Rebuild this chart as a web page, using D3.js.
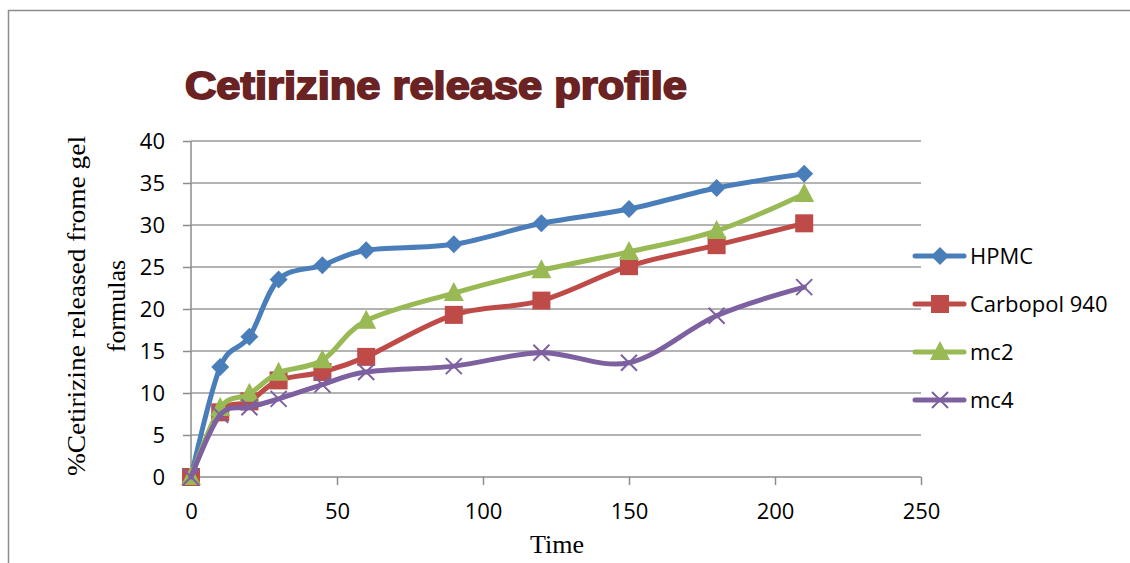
<!DOCTYPE html>
<html>
<head>
<meta charset="utf-8">
<script src="https://cdn.jsdelivr.net/npm/d3@7"></script>
<style>
  body { margin: 0; background: #fff; }
  svg { display: block; }
</style>
</head>
<body>
<div id="chart"></div>
<script>
// Data
const times = [0, 10, 20, 30, 45, 60, 90, 120, 150, 180, 210];
const hpmc = [0, 13.1, 16.7, 23.5, 25.2, 27.0, 27.7, 30.2, 31.9, 34.4, 36.1];
const carbopol = [0, 7.7, 9.0, 11.5, 12.5, 14.3, 19.3, 21.0, 25.1, 27.6, 30.2];
const mc2 = [0, 8.2, 9.9, 12.4, 13.9, 18.6, 21.9, 24.6, 26.8, 29.3, 33.7];
const mc4 = [0, 7.4, 8.3, 9.3, 11.0, 12.5, 13.2, 14.8, 13.6, 19.2, 22.6];
const seriesNames = ["HPMC", "Carbopol 940", "mc2", "mc4"];
const xTicks = [0, 50, 100, 150, 200, 250];
const yTicks = [0, 5, 10, 15, 20, 25, 30, 35, 40];

const series = [
  { name: seriesNames[0], values: hpmc, color: "#4a7ebb", marker: "diamond" },
  { name: seriesNames[1], values: carbopol, color: "#be4b48", marker: "square" },
  { name: seriesNames[2], values: mc2, color: "#98b954", marker: "triangle" },
  { name: seriesNames[3], values: mc4, color: "#7d60a0", marker: "cross" }
];

const W = 1130, H = 563;
const margin = { top: 141, left: 191, right: 209, bottom: 86 };
const width = W - margin.left - margin.right;
const height = H - margin.top - margin.bottom;

const svg = d3.select("#chart").append("svg")
  .attr("width", W)
  .attr("height", H);

// outer chart frame
svg.append("path")
  .attr("d", "M8.5," + H + " V10.5 H" + W)
  .attr("fill", "none")
  .attr("stroke", "#8c8c8c")
  .attr("stroke-width", 1.5);

// title
svg.append("text")
  .attr("x", 185)
  .attr("y", 99)
  .attr("font-family", "Liberation Sans, Arial, sans-serif")
  .attr("font-weight", "bold")
  .attr("font-size", 38)
  .attr("fill", "#6a2222")
  .attr("stroke", "#6a2222")
  .attr("stroke-width", 1.8)
  .attr("textLength", 502)
  .attr("lengthAdjust", "spacingAndGlyphs")
  .text("Cetirizine release profile");

const g = svg.append("g")
  .attr("transform", "translate(" + margin.left + "," + margin.top + ")");

const x = d3.scaleLinear().domain([0, 250]).range([0, width]);
const y = d3.scaleLinear().domain([0, 40]).range([height, 0]);

// horizontal gridlines
g.append("g")
  .selectAll("line")
  .data(yTicks.filter(function(d) { return d > 0; }))
  .enter().append("line")
  .attr("x1", 0)
  .attr("x2", width)
  .attr("y1", function(d) { return y(d); })
  .attr("y2", function(d) { return y(d); })
  .attr("stroke", "#9a9a9a")
  .attr("stroke-width", 1.5);

// y axis
const yAxis = g.append("g")
  .call(d3.axisLeft(y).tickValues(yTicks).tickSize(8).tickPadding(18));
yAxis.selectAll("line, path").attr("stroke", "#8c8c8c").attr("stroke-width", 1.5);
yAxis.select(".domain").attr("d", "M0," + height + "V0");
yAxis.selectAll("text")
  .attr("font-family", "Open Sans, sans-serif")
  .attr("font-size", 22)
  .attr("fill", "#000");

// x axis
const xAxis = g.append("g")
  .attr("transform", "translate(0," + height + ")")
  .call(d3.axisBottom(x).tickValues(xTicks).tickSize(8).tickPadding(18));
xAxis.selectAll("line, path").attr("stroke", "#8c8c8c").attr("stroke-width", 1.5);
xAxis.select(".domain").attr("d", "M0,0H" + width);
xAxis.selectAll("text")
  .attr("font-family", "Open Sans, sans-serif")
  .attr("font-size", 22)
  .attr("fill", "#000");

// axis titles
svg.append("text")
  .attr("x", 557)
  .attr("y", 553)
  .attr("text-anchor", "middle")
  .attr("font-family", "Liberation Serif, serif")
  .attr("font-size", 26)
  .text("Time");

const yLabel = svg.append("text")
  .attr("transform", "translate(85,306) rotate(-90)")
  .attr("text-anchor", "middle")
  .attr("font-family", "Liberation Serif, serif")
  .attr("font-size", 26);
yLabel.append("tspan").attr("x", 0).attr("dy", 0)
  .attr("textLength", 340).attr("lengthAdjust", "spacingAndGlyphs")
  .text("%Cetirizine released frome gel");
yLabel.append("tspan").attr("x", 0).attr("dy", 40).text("formulas");

// marker drawing
function drawMarker(sel, type, color) {
  if (type === "diamond") {
    sel.append("path").attr("d", "M0,-9L9,0L0,9L-9,0Z").attr("fill", color);
  } else if (type === "square") {
    sel.append("rect").attr("x", -9).attr("y", -9).attr("width", 18).attr("height", 18).attr("fill", color);
  } else if (type === "triangle") {
    sel.append("path").attr("d", "M0,-11L10,8L-10,8Z").attr("fill", color);
  } else {
    sel.append("path").attr("d", "M-8,-8L8,8M-8,8L8,-8")
      .attr("stroke", color).attr("stroke-width", 2).attr("fill", "none");
  }
}

const line = d3.line()
  .x(function(d) { return x(d[0]); })
  .y(function(d) { return y(d[1]); })
  .curve(d3.curveCatmullRom.alpha(0));

series.forEach(function(s) {
  const pts = times.map(function(t, i) { return [t, s.values[i]]; });
  g.append("path")
    .datum(pts)
    .attr("d", line)
    .attr("fill", "none")
    .attr("stroke", s.color)
    .attr("stroke-width", 5)
    .attr("stroke-linejoin", "round")
    .attr("stroke-linecap", "round");
  g.selectAll(null)
    .data(pts)
    .enter().append("g")
    .attr("transform", function(d) { return "translate(" + x(d[0]) + "," + y(d[1]) + ")"; })
    .each(function() { drawMarker(d3.select(this), s.marker, s.color); });
});

// legend
const legend = svg.append("g").attr("transform", "translate(912,256)");
series.forEach(function(s, i) {
  const item = legend.append("g").attr("transform", "translate(0," + (i * 48) + ")");
  item.append("line")
    .attr("x1", 3).attr("x2", 52)
    .attr("stroke", s.color)
    .attr("stroke-width", 5)
    .attr("stroke-linecap", "round");
  const m = item.append("g").attr("transform", "translate(28,0)");
  drawMarker(m, s.marker, s.color);
  item.append("text")
    .attr("x", 58)
    .attr("y", 8)
    .attr("font-family", "Open Sans, sans-serif")
    .attr("font-size", 22)
    .text(s.name);
});
</script>
</body>
</html>
